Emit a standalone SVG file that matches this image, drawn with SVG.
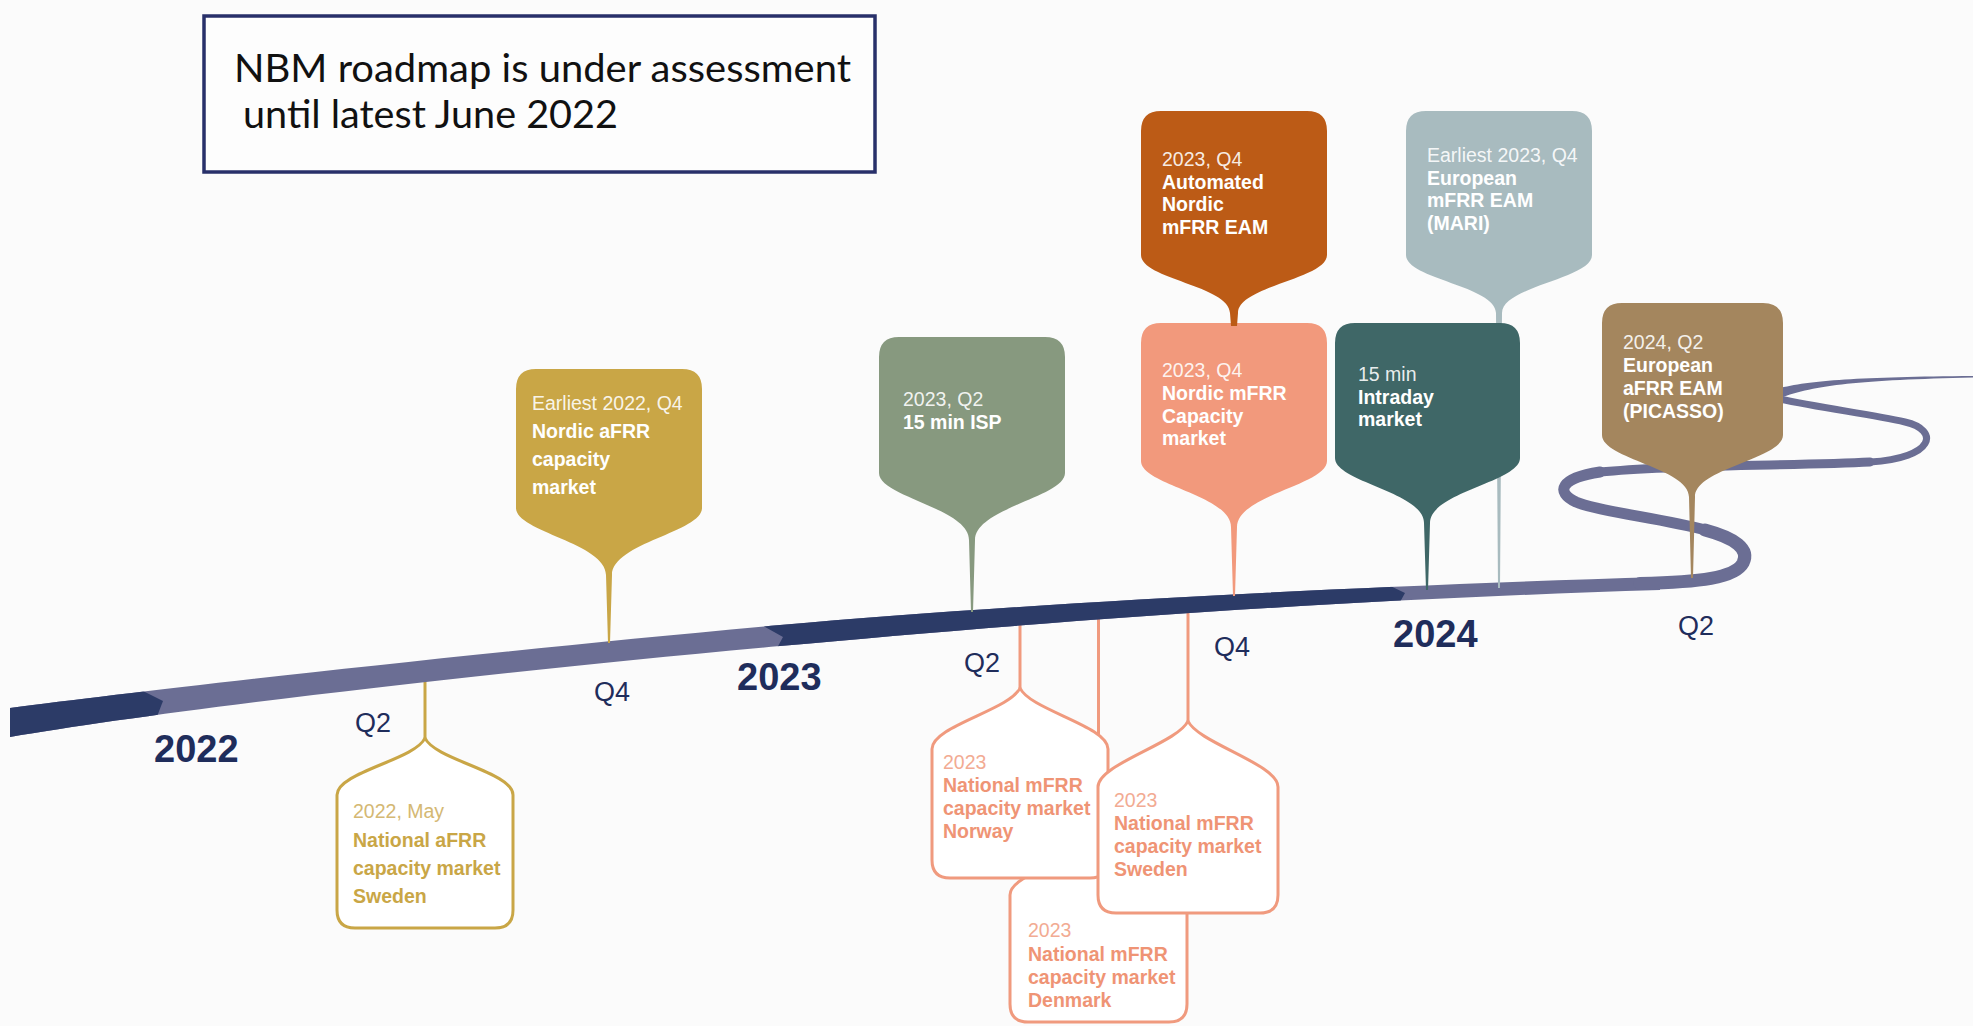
<svg xmlns="http://www.w3.org/2000/svg" width="1973" height="1026" viewBox="0 0 1973 1026">
<style>
.t{font-family:"Liberation Sans",Arial,sans-serif;font-size:19.5px}
.b{font-weight:bold}
.w{fill:#ffffff}
.wl{fill:#ffffff;fill-opacity:0.9}
.lab{font-family:"Liberation Sans",Arial,sans-serif;fill:#1f2d5b}
.yr{font-size:38px;font-weight:bold}
.q{font-size:27px}
.out{fill:#ffffff;stroke-width:3;stroke-linejoin:round}
.stem{fill:none;stroke-width:3}
.gold{stroke:#c9a646}
.sal{stroke:#f09a7e}
.gt{fill:#c9a646}
.gtl{fill:#d4b873}
.st{fill:#ef9475}
.stl{fill:#f2ab93}
.loop{fill:none;stroke:#6b6e94;stroke-linecap:round}
.ttl{font-family:Lato,"Open Sans","Liberation Sans",sans-serif;font-size:38px;fill:#111111}
</style>
<defs>
<clipPath id="bandClip">
<path d="M10,708 C150,690 450,655 780,625 C1000,606 1300,588 1660,577 L1660,590 C1300,601 1000,626 780,646 C450,676 150,713 10,737 Z"/>
</clipPath>
</defs>
<rect x="0" y="0" width="1973" height="1026" fill="#fbfbfb"/>

<g id="title">
<rect x="204" y="16" width="671" height="156" fill="#fdfdfd" stroke="#28306a" stroke-width="3.5"/>
<text class="ttl" x="234" y="82" textLength="617" lengthAdjust="spacingAndGlyphs">NBM roadmap is under assessment</text>
<text class="ttl" x="243" y="128" textLength="375" lengthAdjust="spacingAndGlyphs">until latest June 2022</text>
</g>

<!-- lower (outline) pins -->
<g id="pin-national-afrr-sweden">
<path class="stem gold" d="M425,738 V676"/>
<path class="out gold" d="M355,928 H495 Q513,928 513,910 V795 C513,772 435,760 425,738 C415,760 337,772 337,795 V910 Q337,928 355,928 Z"/>
<text class="t gtl" x="353" y="818">2022, May</text>
<text class="t b gt" x="353" y="847">National aFRR</text>
<text class="t b gt" x="353" y="875">capacity market</text>
<text class="t b gt" x="353" y="903">Sweden</text>
</g>
<g id="pin-national-mfrr-denmark">
<path class="stem sal" d="M1098.5,836 V612"/>
<path class="out sal" d="M1028,1022 H1169 Q1187,1022 1187,1004 V895 C1187,872 1108,858 1098.5,836 C1089,858 1010,872 1010,895 V1004 Q1010,1022 1028,1022 Z"/>
<text class="t stl" x="1028" y="937">2023</text>
<text class="t b st" x="1028" y="961">National mFRR</text>
<text class="t b st" x="1028" y="984">capacity market</text>
<text class="t b st" x="1028" y="1007">Denmark</text>
</g>
<g id="pin-national-mfrr-norway">
<path class="stem sal" d="M1020,688 V618"/>
<path class="out sal" d="M950,878 H1090 Q1108,878 1108,860 V749 C1108,726 1030,710 1020,688 C1010,710 932,726 932,749 V860 Q932,878 950,878 Z"/>
<text class="t stl" x="943" y="769">2023</text>
<text class="t b st" x="943" y="792">National mFRR</text>
<text class="t b st" x="943" y="815">capacity market</text>
<text class="t b st" x="943" y="838">Norway</text>
</g>
<g id="pin-national-mfrr-sweden">
<path class="stem sal" d="M1188,721 V605"/>
<path class="out sal" d="M1116,913 H1260 Q1278,913 1278,895 V787 C1278,764 1198,743 1188,721 C1178,743 1098,764 1098,787 V895 Q1098,913 1116,913 Z"/>
<text class="t stl" x="1114" y="807">2023</text>
<text class="t b st" x="1114" y="830">National mFRR</text>
<text class="t b st" x="1114" y="853">capacity market</text>
<text class="t b st" x="1114" y="876">Sweden</text>
</g>

<!-- timeline band -->
<g id="timeline">
<path d="M10,708 C150,690 450,655 780,625 C1000,606 1300,588 1660,577 L1660,590 C1300,601 1000,626 780,646 C450,676 150,713 10,737 Z" fill="#6b6e94"/>
<g clip-path="url(#bandClip)" fill="#2c3b67">
<polygon points="0,640 41,640 163,701 146,745 0,745"/>
<polygon points="644,560 1336,560 1405,593 1346,700 749,700 783,637"/>
</g>
<path class="loop" stroke-width="13" d="M1640,583.5 C1700,582 1735,578 1743,563 C1750,549 1735,538 1705,530"/>
<path class="loop" stroke-width="11" d="M1705,530 C1660,518 1600,512 1576,502 C1555,492 1560,478 1600,472"/>
<path class="loop" stroke-width="9" d="M1600,472 C1680,464 1800,466 1870,462"/>
<path class="loop" stroke-width="7" d="M1870,462 C1935,458 1940,430 1905,422 C1870,414 1820,408 1775,398"/>
<path d="M1770,391 C1800,381 1850,377 1973,376 L1973,377.5 C1860,380 1815,385 1780,398 Z" fill="#6b6e94"/>
<text class="lab yr" x="154" y="762">2022</text>
<text class="lab q" x="355" y="732">Q2</text>
<text class="lab q" x="594" y="701">Q4</text>
<text class="lab yr" x="737" y="690">2023</text>
<text class="lab q" x="964" y="672">Q2</text>
<text class="lab q" x="1214" y="656">Q4</text>
<text class="lab yr" x="1393" y="647">2024</text>
<text class="lab q" x="1678" y="635">Q2</text>
</g>

<!-- upper (filled) pins -->
<g id="pin-nordic-afrr">
<path fill="#c9a646" d="M536,369 H682 Q702,369 702,389 V508 C702,532 612,543 612,575 L610,643 L608,643 L606,575 C606,543 516,532 516,508 V389 Q516,369 536,369 Z"/>
<text class="t wl" x="532" y="410">Earliest 2022, Q4</text>
<text class="t b w" x="532" y="438">Nordic aFRR</text>
<text class="t b w" x="532" y="466">capacity</text>
<text class="t b w" x="532" y="494">market</text>
</g>
<g id="pin-15min-isp">
<path fill="#87997f" d="M899,337 H1045 Q1065,337 1065,357 V473 C1065,497 975,508 975,540 L973,612 L971,612 L969,540 C969,508 879,497 879,473 V357 Q879,337 899,337 Z"/>
<text class="t wl" x="903" y="406">2023, Q2</text>
<text class="t b w" x="903" y="429">15 min ISP</text>
</g>
<g id="pin-nordic-mfrr-capacity">
<path fill="#f2997c" d="M1161,323 H1307 Q1327,323 1327,343 V461 C1327,485 1237,495 1237,527 L1235,596 L1233,596 L1231,527 C1231,495 1141,485 1141,461 V343 Q1141,323 1161,323 Z"/>
<text class="t wl" x="1162" y="377">2023, Q4</text>
<text class="t b w" x="1162" y="400">Nordic mFRR</text>
<text class="t b w" x="1162" y="423">Capacity</text>
<text class="t b w" x="1162" y="445">market</text>
</g>
<g id="pin-automated-nordic-mfrr">
<path fill="#bc5b16" d="M1161,111 H1307 Q1327,111 1327,131 V255 C1327,279 1238,286 1238,313 L1237,326 L1231,326 L1230,313 C1230,286 1141,279 1141,255 V131 Q1141,111 1161,111 Z"/>
<text class="t wl" x="1162" y="166">2023, Q4</text>
<text class="t b w" x="1162" y="188.5">Automated</text>
<text class="t b w" x="1162" y="211">Nordic</text>
<text class="t b w" x="1162" y="233.5">mFRR EAM</text>
</g>
<g id="pin-mari">
<path fill="#a8bbbf" d="M1426,111 H1572 Q1592,111 1592,131 V255 C1592,279 1502,286 1502,313 L1500,588 L1498,588 L1496,313 C1496,286 1406,279 1406,255 V131 Q1406,111 1426,111 Z"/>
<text class="t wl" x="1427" y="162">Earliest 2023, Q4</text>
<text class="t b w" x="1427" y="184.5">European</text>
<text class="t b w" x="1427" y="207">mFRR EAM</text>
<text class="t b w" x="1427" y="229.5">(MARI)</text>
</g>
<g id="pin-intraday">
<path fill="#3f6767" d="M1355,323 H1500 Q1520,323 1520,343 V458 C1520,482 1430,492 1430,523 L1428,590 L1426,590 L1424,523 C1424,492 1335,482 1335,458 V343 Q1335,323 1355,323 Z"/>
<text class="t wl" x="1358" y="381">15 min</text>
<text class="t b w" x="1358" y="403.5">Intraday</text>
<text class="t b w" x="1358" y="426">market</text>
</g>
<g id="pin-picasso">
<path fill="#a4865e" d="M1622,303 H1763 Q1783,303 1783,323 V435 C1783,459 1695,468 1695,497 L1693,578 L1691,578 L1689,497 C1689,468 1602,459 1602,435 V323 Q1602,303 1622,303 Z"/>
<text class="t wl" x="1623" y="349">2024, Q2</text>
<text class="t b w" x="1623" y="372">European</text>
<text class="t b w" x="1623" y="395">aFRR EAM</text>
<text class="t b w" x="1623" y="418">(PICASSO)</text>
</g>
</svg>
